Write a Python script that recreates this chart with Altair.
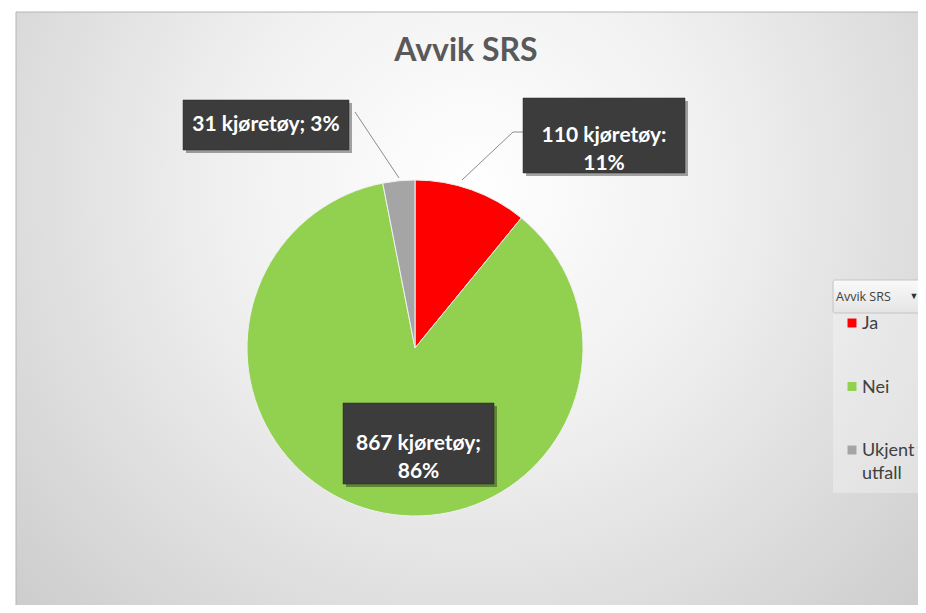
import altair as alt
import pandas as pd

# ---- data ----
categories = ["Ja", "Nei", "Ukjent utfall"]
counts = [110, 867, 31]
percents = [11, 86, 3]
separators = [":", ";", ";"]
colors = ["#ff0000", "#92d050", "#a5a5a5"]
legend_lines = [["Ja"], ["Nei"], ["Ukjent", "utfall"]]
title_text = "Avvik SRS"
unit = "kjøretøy"

df = pd.DataFrame({
    "cat": categories,
    "count": counts,
    "idx": list(range(len(categories))),
    "legend": legend_lines,
})

one = pd.DataFrame({"k": [0]})

W, H = 910, 597
CX, CY, R = 407, 340, 168
FONT = "Lato"

layers = []

# background frame with radial gradient
bg = alt.Chart(one).mark_rect(
    fill=alt.Gradient(
        gradient="radial",
        stops=[alt.GradientStop(color="#ffffff", offset=0),
               alt.GradientStop(color="#f0f0f0", offset=0.35),
               alt.GradientStop(color="#c4c4c4", offset=1)],
        x1=0.5, y1=0.36, r1=0, x2=0.5, y2=0.36, r2=0.78),
    stroke="#b4b4b4", strokeWidth=1,
).encode(x=alt.value(8), x2=alt.value(W + 10), y=alt.value(4), y2=alt.value(H + 10))
layers.append(bg)

# title
layers.append(alt.Chart(one).mark_text(
    text=title_text, font=FONT, fontSize=32, fontWeight="bold", color="#595959",
    align="center", baseline="alphabetic").encode(x=alt.value(458), y=alt.value(53)))

# pie
pie = alt.Chart(df).mark_arc(radius=R, stroke="#f0f0f0", strokeWidth=1).encode(
    theta=alt.Theta("count:Q", stack=True),
    color=alt.Color("cat:N", scale=alt.Scale(domain=categories, range=colors), legend=None),
    order=alt.Order("idx:Q"),
    x=alt.value(CX), y=alt.value(CY),
)
layers.append(pie)

# leader lines
leaders = [
    (347, 104, 391, 170),   # 31
    (505, 124, 515, 124),   # 110 horizontal
    (505, 124, 454, 172),   # 110 diagonal
]
for x1, y1, x2, y2 in leaders:
    layers.append(alt.Chart(one).mark_rule(color="#8c8c8c", strokeWidth=1).encode(
        x=alt.value(x1), y=alt.value(y1), x2=alt.value(x2), y2=alt.value(y2)))

# data label boxes: (x1, y1, x2, y2) per category
boxes = {
    "Ja": (515, 90, 677, 165),
    "Nei": (335, 395, 486, 476),
    "Ukjent utfall": (175, 92, 341, 142),
}
multiline = {"Ja": True, "Nei": True, "Ukjent utfall": False}

for cat, cnt, pct, sep in zip(categories, counts, percents, separators):
    x1, y1, x2, y2 = boxes[cat]
    layers.append(alt.Chart(one).mark_rect(color="#000000", opacity=0.35).encode(
        x=alt.value(x1 + 3), x2=alt.value(x2 + 3), y=alt.value(y1 + 3), y2=alt.value(y2 + 3)))
    layers.append(alt.Chart(one).mark_rect(color="#3c3c3c", stroke="#2a2a2a", strokeWidth=0.5).encode(
        x=alt.value(x1), x2=alt.value(x2), y=alt.value(y1), y2=alt.value(y2)))
    if multiline[cat]:
        txt = [f"{cnt} {unit}{sep}", f"{pct}%"]
    else:
        txt = f"{cnt} {unit}{sep} {pct}%"
    layers.append(alt.Chart(one).mark_text(
        text=txt, font=FONT, fontSize=21, fontWeight="bold", color="#ffffff",
        align="center", baseline="middle", lineHeight=28).encode(
        x=alt.value((x1 + x2) / 2), y=alt.value((y1 + y2) / 2)))

# legend panel
layers.append(alt.Chart(one).mark_rect(color="#ffffff", opacity=0.3).encode(
    x=alt.value(825), x2=alt.value(W + 10), y=alt.value(305), y2=alt.value(485)))
layers.append(alt.Chart(one).mark_rect(
    fill=alt.Gradient(gradient="linear",
                      stops=[alt.GradientStop(color="#fafafa", offset=0),
                             alt.GradientStop(color="#e4e4e4", offset=1)],
                      x1=0, y1=0, x2=0, y2=1),
    stroke="#c4c4c4", strokeWidth=1, cornerRadius=2).encode(
    x=alt.value(825), x2=alt.value(W + 12), y=alt.value(272), y2=alt.value(305)))
layers.append(alt.Chart(one).mark_text(
    text=title_text, font="Open Sans", fontSize=12.5, color="#404040",
    align="left", baseline="middle").encode(x=alt.value(828), y=alt.value(289)))
layers.append(alt.Chart(one).mark_text(
    text="▼", fontSize=9, color="#303030", align="center", baseline="middle").encode(
    x=alt.value(906), y=alt.value(288)))

ypos = alt.Y("cat:N", scale=alt.Scale(type="point", domain=categories, range=[315, 442], padding=0), axis=None)
layers.append(alt.Chart(df).mark_square(size=80, opacity=1, filled=True).encode(
    x=alt.value(844), y=ypos,
    color=alt.Color("cat:N", scale=alt.Scale(domain=categories, range=colors), legend=None)))
layers.append(alt.Chart(df).mark_text(
    font=FONT, fontSize=18, color="#404040", align="left", baseline="alphabetic",
    dy=6, lineHeight=23).encode(
    x=alt.value(854), y=ypos, text="legend"))

chart = alt.layer(*layers).properties(
    width=W, height=H, padding=0, autosize=alt.AutoSizeParams(type="none"),
    background="#ffffff",
).configure_view(stroke=None)

chart.save("out.html", embed_options={"renderer": "svg", "actions": False})
